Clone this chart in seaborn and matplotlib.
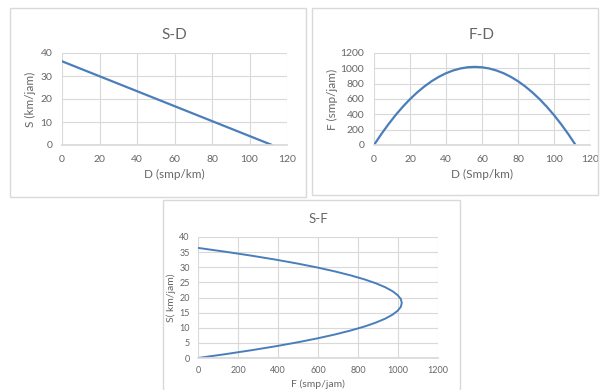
import matplotlib.pyplot as plt
import seaborn as sns
import pandas as pd
from matplotlib.patches import Rectangle

sns.set_theme(style="white")
plt.rcParams["font.family"] = ["Lato", "DejaVu Sans"]

# values (linear speed-density relation)
density = [0, 4, 8, 12, 16, 20, 24, 28, 32, 36, 40, 44, 48, 52, 56,
           60, 64, 68, 72, 76, 80, 84, 88, 92, 96, 100, 104, 108, 112]
speed = [36.4, 35.1, 33.8, 32.5, 31.2, 29.9, 28.6, 27.3, 26.0, 24.7, 23.4,
         22.1, 20.8, 19.5, 18.2, 16.9, 15.6, 14.3, 13.0, 11.7, 10.4, 9.1,
         7.8, 6.5, 5.2, 3.9, 2.6, 1.3, 0.0]
flow = [0, 140, 270, 390, 499, 598, 686, 764, 832, 889, 936, 972, 998,
        1014, 1019, 1014, 998, 972, 936, 889, 832, 764, 686, 598, 499,
        390, 270, 140, 0]

df = pd.DataFrame({"D": density, "S": speed, "F": flow})

LINE = "#4a7ebb"
TXT = "#666666"
GRID = "#d9d9d9"
W, H = 600, 390

fig = plt.figure(figsize=(6, 3.9), dpi=100)


def box(x0, y0, x1, y1):
    # pixel coords, origin top-left
    fig.patches.append(Rectangle((x0 / W, 1 - y1 / H), (x1 - x0) / W, (y1 - y0) / H,
                                 transform=fig.transFigure, fill=False,
                                 edgecolor=GRID, linewidth=1.0))


def axes(x0, y0, x1, y1):
    return fig.add_axes([x0 / W, 1 - y1 / H, (x1 - x0) / W, (y1 - y0) / H])


def style(ax, xt, yt, fs, pad):
    ax.set_xticks(xt)
    ax.set_yticks(yt)
    ax.set_xlim(xt[0], xt[-1])
    ax.set_ylim(yt[0], yt[-1])
    ax.grid(True, color=GRID, linewidth=0.8)
    for s in ["top", "right", "left"]:
        ax.spines[s].set_visible(False)
    ax.spines["bottom"].set_color(GRID)
    ax.tick_params(axis="both", labelsize=fs, colors=TXT, length=0, pad=pad)
    ax.set_facecolor("white")


box(10, 8, 306, 197)
box(312, 8, 598, 195)
box(163, 200, 460, 392)

# S-D
ax1 = axes(62, 53, 287, 145)
sns.lineplot(data=df, x="D", y="S", ax=ax1, color=LINE, linewidth=1.6)
style(ax1, [0, 20, 40, 60, 80, 100, 120], [0, 10, 20, 30, 40], 7.5, 7)
ax1.set_xlabel("D (smp/km)", fontsize=8.5, color=TXT, labelpad=4)
ax1.set_ylabel("S (km/jam)", fontsize=8.5, color=TXT, labelpad=3)
ax1.set_title("S-D", fontsize=11, color=TXT, pad=10)

# F-D
ax2 = axes(374, 53, 590, 145)
sns.lineplot(data=df, x="D", y="F", ax=ax2, color=LINE, linewidth=1.6)
style(ax2, [0, 20, 40, 60, 80, 100, 120], [0, 200, 400, 600, 800, 1000, 1200], 7.5, 7)
ax2.set_xlabel("D (Smp/km)", fontsize=8.5, color=TXT, labelpad=4)
ax2.set_ylabel("F (smp/jam)", fontsize=8.5, color=TXT, labelpad=2)
ax2.set_title("F-D", fontsize=11, color=TXT, pad=10)

# S-F
ax3 = axes(198, 237, 438, 358)
sns.lineplot(data=df, x="F", y="S", ax=ax3, color=LINE, linewidth=1.4,
             sort=False, estimator=None)
style(ax3, [0, 200, 400, 600, 800, 1000, 1200], [0, 5, 10, 15, 20, 25, 30, 35, 40], 6.5, 6)
ax3.set_xlabel("F (smp/jam)", fontsize=7.5, color=TXT, labelpad=3)
ax3.set_ylabel("S( km/jam)", fontsize=7.5, color=TXT, labelpad=2)
ax3.set_title("S-F", fontsize=9.5, color=TXT, pad=10)

fig.savefig("out.png", dpi=100)
